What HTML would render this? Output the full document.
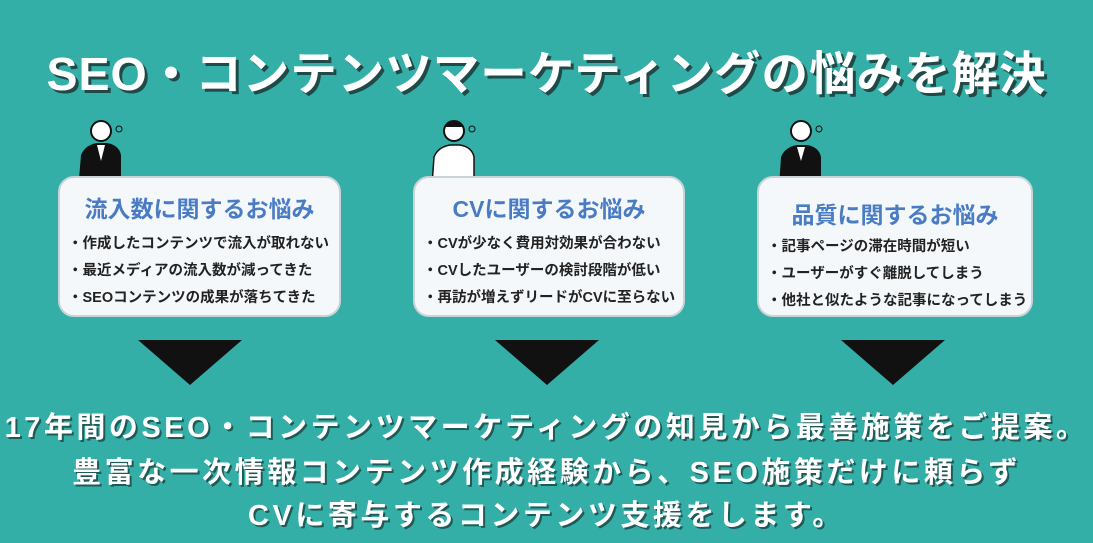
<!DOCTYPE html>
<html><head><meta charset="utf-8"><style>
body{margin:0;width:1093px;height:543px;background:#33afa8;position:relative;overflow:hidden;font-family:"Liberation Sans","Noto Sans CJK JP",sans-serif;}
.t{position:absolute;left:0;width:1093px;text-align:center;color:#fff;font-weight:bold;white-space:nowrap;}
.title{top:37px;font-size:46.5px;letter-spacing:1px;text-shadow:3px 3px 0 #1f4a48;}
.b{top:0;font-size:29px;letter-spacing:3.5px;text-shadow:2px 2px 0 #1f5a57;}
.box{position:absolute;top:176px;height:141px;background:#f5f8fb;border:2px solid #c9d3d8;border-radius:16px;box-sizing:border-box;}
.box h3{margin:0;position:absolute;left:0;right:0;top:12px;text-align:center;color:#4a7cc4;font-size:23px;font-weight:bold;}
.box ul{list-style:none;margin:0;padding:0;position:absolute;left:8px;top:54px;font-size:14.5px;color:#222;font-weight:bold;}
.box li{height:27px;}
.tri{position:absolute;top:340px;width:0;height:0;border-left:52px solid transparent;border-right:52px solid transparent;border-top:45px solid #111;}
svg{position:absolute;}
</style></head><body>
<div class="t title">SEO・コンテンツマーケティングの悩みを解決</div>

<svg style="left:75px;top:115px" width="60" height="65"><circle cx="26" cy="16" r="10" fill="#fff" stroke="#111" stroke-width="2"/><path d="M4 64 L6 40 Q10 30 22 28 L32 28 Q44 30 46 40 L46 64Z" fill="#111"/><path d="M22 30 L26 46 L30 30Z" fill="#fff"/><circle cx="44" cy="14" r="3" fill="none" stroke="#111"/></svg>
<svg style="left:428px;top:115px" width="60" height="72"><circle cx="26" cy="16" r="10" fill="#fff" stroke="#111" stroke-width="2"/><path d="M16 12 Q26 0 36 12Z" fill="#111"/><path d="M4 70 L6 42 Q10 32 22 30 L32 30 Q44 32 46 42 L46 70Z" fill="#fff" stroke="#111" stroke-width="1.5"/><circle cx="44" cy="14" r="3" fill="none" stroke="#111"/></svg>
<svg style="left:775px;top:115px" width="60" height="72"><circle cx="26" cy="16" r="10" fill="#fff" stroke="#111" stroke-width="2"/><path d="M4 72 L6 42 Q10 32 22 30 L32 30 Q44 32 46 42 L46 72Z" fill="#111"/><path d="M22 32 L26 46 L30 32Z" fill="#fff"/><circle cx="44" cy="14" r="3" fill="none" stroke="#111"/></svg>

<div class="box" style="left:58px;width:283px;"><h3>流入数に関するお悩み</h3><ul><li>・作成したコンテンツで流入が取れない</li><li>・最近メディアの流入数が減ってきた</li><li>・SEOコンテンツの成果が落ちてきた</li></ul></div>
<div class="box" style="left:413px;width:272px;"><h3>CVに関するお悩み</h3><ul><li>・CVが少なく費用対効果が合わない</li><li>・CVしたユーザーの検討段階が低い</li><li>・再訪が増えずリードがCVに至らない</li></ul></div>
<div class="box" style="left:757px;width:276px;"><h3 style="top:18px">品質に関するお悩み</h3><ul style="top:57px"><li>・記事ページの滞在時間が短い</li><li>・ユーザーがすぐ離脱してしまう</li><li>・他社と似たような記事になってしまう</li></ul></div>

<div class="tri" style="left:138px"></div>
<div class="tri" style="left:495px"></div>
<div class="tri" style="left:841px"></div>

<div class="t b" style="top:404px">17年間のSEO・コンテンツマーケティングの知見から最善施策をご提案。</div>
<div class="t b" style="top:449px">豊富な一次情報コンテンツ作成経験から、SEO施策だけに頼らず</div>
<div class="t b" style="top:492px">CVに寄与するコンテンツ支援をします。</div>
</body></html>
